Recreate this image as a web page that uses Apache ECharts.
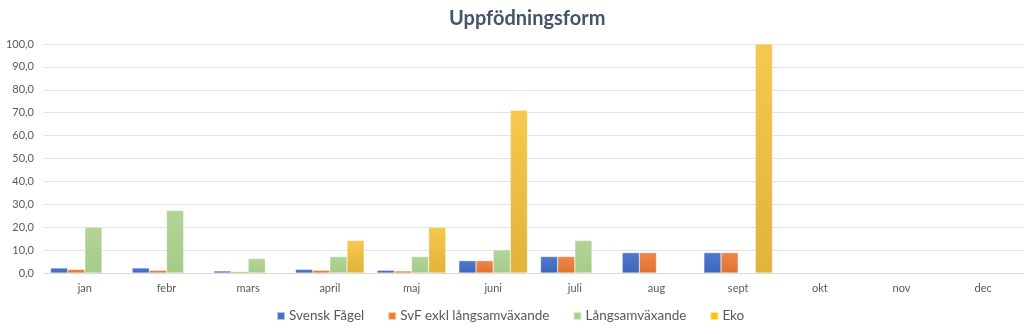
<!DOCTYPE html>
<html>
<head>
<meta charset="utf-8">
<script src="https://cdn.jsdelivr.net/npm/echarts@6/dist/echarts.min.js"></script>
<style>
  html, body { margin: 0; padding: 0; background: #fff; }
  #chart { width: 1024px; height: 334px; }
</style>
</head>
<body>
<div id="chart"></div>
<script>
// Months on the category axis
const months = ['jan', 'febr', 'mars', 'april', 'maj', 'juni', 'juli', 'aug', 'sept', 'okt', 'nov', 'dec'];

// Share per rearing form, per month (null = no value)
const svenskFagel = [2.2, 2.2, 0.9, 1.6, 1.2, 5.4, 7.2, 8.9, 8.9, null, null, null];
const svfExklLangsam = [1.6, 1.2, 0.6, 1.2, 0.9, 5.4, 7.2, 8.9, 8.9, null, null, null];
const langsamvaxande = [20.0, 27.3, 6.3, 7.2, 7.2, 10.1, 14.2, null, null, null, null, null];
const eko = [null, null, null, 14.2, 20.0, 71.1, null, null, 100.0, null, null, null];

const seriesNames = ['Svensk Fågel', 'SvF exkl långsamväxande', 'Långsamväxande', 'Eko'];
const seriesData = [svenskFagel, svfExklLangsam, langsamvaxande, eko];
const topColors = ['#4f78d0', '#f0874a', '#b3d497', '#f7c84e'];
const bottomColors = ['#3f66b8', '#dc7330', '#a6cb89', '#e0b33a'];
const legendColors = ['#4472c4', '#ed7d31', '#a9d18e', '#ffc000'];

const font = 'Lato, "Open Sans", "DejaVu Sans", sans-serif';

const chart = echarts.init(document.getElementById('chart'));

chart.setOption({
  animation: false,
  backgroundColor: '#ffffff',
  title: {
    text: 'Uppfödningsform',
    left: 444,
    top: 4,
    textStyle: { fontFamily: font, fontWeight: 'bold', fontSize: 20, color: '#44546a' }
  },
  legend: {
    bottom: 6,
    left: 271,
    itemWidth: 8,
    itemHeight: 8,
    itemGap: 23,
    icon: 'rect',
    textStyle: { fontFamily: font, fontSize: 13.5, color: '#595959', padding: [0, 0, 0, -1] },
    data: seriesNames.map((n, i) => ({ name: n, itemStyle: { color: legendColors[i] } }))
  },
  grid: { left: 44, right: -8, top: 44, bottom: 61 },
  xAxis: {
    type: 'category',
    data: months,
    axisLine: { lineStyle: { color: '#d9d9d9' } },
    axisTick: { show: false },
    axisLabel: { fontFamily: font, fontSize: 11, color: '#595959', margin: 10 }
  },
  yAxis: {
    type: 'value',
    min: 0,
    max: 100,
    interval: 10,
    axisLine: { show: false },
    axisTick: { show: false },
    splitLine: { lineStyle: { color: '#e0e3ea' } },
    axisLabel: {
      fontFamily: font, fontSize: 11, color: '#595959', margin: 10,
      formatter: v => v.toFixed(1).replace('.', ',')
    }
  },
  series: seriesData.map((d, i) => ({
    name: seriesNames[i],
    type: 'bar',
    data: d,
    barGap: '0%',
    barCategoryGap: '16%',
    itemStyle: {
      color: new echarts.graphic.LinearGradient(0, 0, 0, 1, [
        { offset: 0, color: topColors[i] },
        { offset: 1, color: bottomColors[i] }
      ]),
      borderColor: 'rgba(255,255,255,0.6)',
      borderWidth: 0.5
    }
  }))
});
</script>
</body>
</html>
